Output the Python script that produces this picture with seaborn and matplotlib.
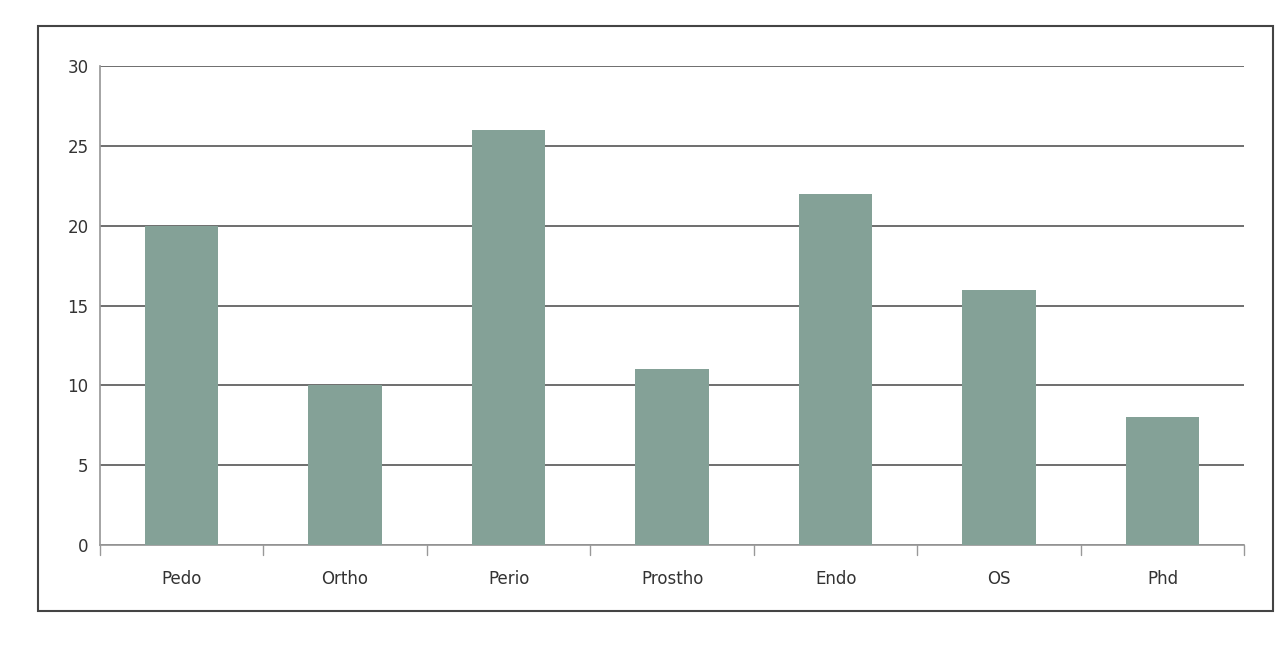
import matplotlib
matplotlib.use("Agg")
import matplotlib.pyplot as plt
import seaborn as sns
import pandas as pd
from matplotlib.patches import Rectangle

categories = ["Pedo", "Ortho", "Perio", "Prostho", "Endo", "OS", "Phd"]
values = [20, 10, 26, 11, 22, 16, 8]
y_ticks = [0, 5, 10, 15, 20, 25, 30]

sns.set_theme(style="white")
plt.rcParams['font.family'] = ['DejaVu Sans']

df = pd.DataFrame({"dept": categories, "count": values})

fig = plt.figure(figsize=(12.79, 6.57), dpi=100)
ax = fig.add_axes([0.078, 0.17, 0.895, 0.73])

sns.barplot(data=df, x="dept", y="count", color="#84a197", width=0.45,
            saturation=1, edgecolor="none", linewidth=0, ax=ax, zorder=3)

ax.set_ylim(0, 30)
ax.set_yticks(y_ticks)
ax.set_yticklabels([str(t) for t in y_ticks], fontsize=12, color="#333333")
ax.yaxis.grid(True, color="#555555", linewidth=1.2, zorder=0)
ax.set_axisbelow(True)
ax.set_xlabel("")
ax.set_ylabel("")
ax.tick_params(axis="x", labelsize=12, colors="#333333", pad=18, length=0)
ax.tick_params(axis="y", pad=8, length=0)

for s in ["top", "right"]:
    ax.spines[s].set_visible(False)
ax.spines["left"].set_color("#999999")
ax.spines["bottom"].set_color("#999999")

# category separator ticks on the x axis
for i in range(len(categories) + 1):
    ax.plot([i - 0.5, i - 0.5], [0, -0.6], color="#999999", lw=1,
            clip_on=False, transform=ax.transData)
ax.set_xlim(-0.5, len(categories) - 0.5)

# outer chart frame
fig.patches.append(Rectangle((0.03, 0.07), 0.965, 0.89, transform=fig.transFigure,
                             fill=False, edgecolor="#444444", linewidth=1.5))

fig.savefig("out.png", dpi=100)
